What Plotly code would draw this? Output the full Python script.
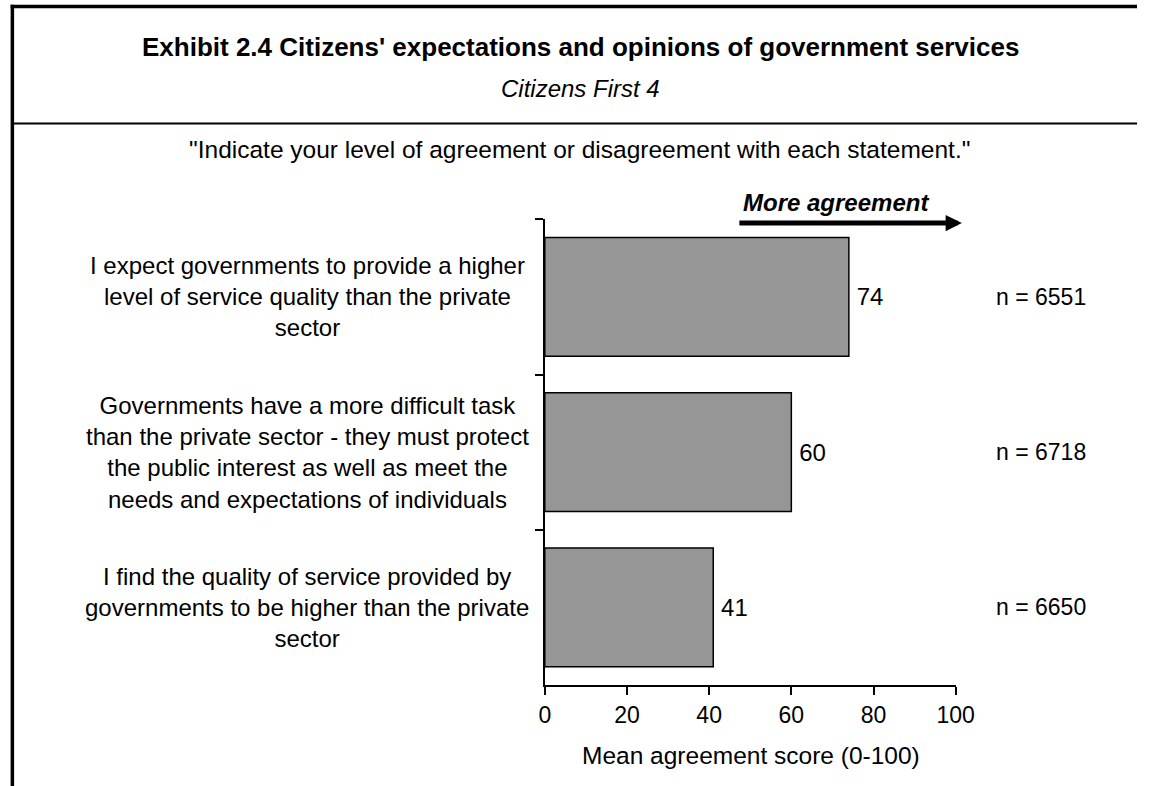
import plotly.graph_objects as go

# ---- data ----
categories = [
    "I expect governments to provide a higher<br>level of service quality than the private<br>sector",
    "Governments have a more difficult task<br>than the private sector - they must protect<br>the public interest as well as meet the<br>needs and expectations of individuals",
    "I find the quality of service provided by<br>governments to be higher than the private<br>sector",
]
scores = [74, 60, 41]
sample_sizes = [6551, 6718, 6650]
x_ticks = [0, 20, 40, 60, 80, 100]

title_text = "Exhibit 2.4 Citizens' expectations and opinions of government services"
subtitle_text = "Citizens First 4"
question_text = '"Indicate your level of agreement or disagreement with each statement."'
arrow_text = "More agreement"
x_title = "Mean agreement score (0-100)"

# ---- styling ----
W, H = 1156, 786
FONT = "Liberation Sans, Arial, sans-serif"
FS = 24
BAR_COLOR = "#969696"

def px_x(p):
    return p / W

def px_y(p):
    return 1 - p / H

fig = go.Figure()
fig.add_trace(go.Bar(
    y=categories,
    x=scores,
    orientation="h",
    marker=dict(color=BAR_COLOR, line=dict(color="black", width=1.5)),
    text=["\u2009" + str(s) for s in scores],
    textposition="outside",
    textfont=dict(family=FONT, size=FS, color="black"),
    cliponaxis=False,
    hoverinfo="skip",
))

annotations = []
# category labels
for cat in categories:
    annotations.append(dict(
        x=px_x(308), xref="paper", y=cat, yref="y",
        text=cat, showarrow=False, xanchor="center", yanchor="middle",
        align="center", font=dict(family=FONT, size=FS, color="black"),
    ))
# n labels
for cat, n in zip(categories, sample_sizes):
    annotations.append(dict(
        x=px_x(1058), xref="paper", y=cat, yref="y",
        text=f"n = {n}", showarrow=False, xanchor="center", yanchor="middle",
        font=dict(family=FONT, size=23, color="black"),
    ))
# titles
annotations += [
    dict(x=px_x(587), y=px_y(47), xref="paper", yref="paper", text=f"<b>{title_text}</b>",
         showarrow=False, xanchor="center", yanchor="middle",
         font=dict(family=FONT, size=26, color="black")),
    dict(x=px_x(587), y=px_y(89), xref="paper", yref="paper", text=f"<i>{subtitle_text}</i>",
         showarrow=False, xanchor="center", yanchor="middle",
         font=dict(family=FONT, size=FS, color="black")),
    dict(x=px_x(586), y=px_y(149), xref="paper", yref="paper", text=question_text,
         showarrow=False, xanchor="center", yanchor="middle",
         font=dict(family=FONT, size=24.5, color="black")),
    dict(x=px_x(848), y=px_y(202), xref="paper", yref="paper", text=f"<b><i>{arrow_text}</i></b>",
         showarrow=False, xanchor="center", yanchor="middle",
         font=dict(family=FONT, size=FS, color="black")),
    dict(x=px_x(761), y=px_y(755), xref="paper", yref="paper", text=x_title,
         showarrow=False, xanchor="center", yanchor="middle",
         font=dict(family=FONT, size=24.5, color="black")),
    # arrow
    dict(x=px_x(977), y=px_y(223), xref="paper", yref="paper", text="",
         ax=-224, ay=0, showarrow=True, arrowhead=2, arrowwidth=5, arrowsize=0.65,
         arrowcolor="black", standoff=0, startstandoff=0),
]

shapes = [
    dict(type="line", xref="paper", yref="paper", x0=px_x(4.8), x1=1.0, y0=px_y(6.5), y1=px_y(6.5),
         line=dict(color="black", width=3.5)),
    dict(type="line", xref="paper", yref="paper", x0=px_x(6.5), x1=px_x(6.5), y0=px_y(4.8), y1=0,
         line=dict(color="black", width=3.5)),
    dict(type="line", xref="paper", yref="paper", x0=px_x(6.5), x1=1.0, y0=px_y(123.5), y1=px_y(123.5),
         line=dict(color="black", width=2)),
]

fig.update_layout(
    autosize=True,
    margin=dict(l=0, r=0, t=0, b=0, pad=0),
    paper_bgcolor="white", plot_bgcolor="white",
    showlegend=False,
    bargap=0.234,
    font=dict(family=FONT, size=FS, color="black"),
    annotations=annotations,
    shapes=shapes,
    xaxis=dict(
        domain=[px_x(550.7), px_x(970.7)],
        range=[0, 100], tickvals=x_ticks, ticktext=[str(t) for t in x_ticks],
        showgrid=False, zeroline=False,
        showline=True, linecolor="black", linewidth=2,
        ticks="outside", ticklen=8, tickwidth=2, tickcolor="black",
        tickfont=dict(family=FONT, size=23, color="black"),
        anchor="y",
    ),
    yaxis=dict(
        domain=[px_y(685), px_y(219.3)],
        categoryorder="array", categoryarray=categories,
        autorange="reversed",
        showticklabels=False,
        showgrid=False, zeroline=False,
        showline=True, linecolor="black", linewidth=2,
        ticks="outside", ticklen=8, tickwidth=2, tickcolor="black",
        tickson="boundaries",
        anchor="x",
    ),
)

fig.write_html(
    "out.html",
    config={"displayModeBar": False, "responsive": True},
    default_width="100vw",
    default_height="100vh",
    post_script=(
        "document.documentElement.style.margin='0px';"
        "document.body.style.margin='0px';"
        "document.body.style.overflow='hidden';"
        "document.documentElement.style.overflow='hidden';"
    ),
)
